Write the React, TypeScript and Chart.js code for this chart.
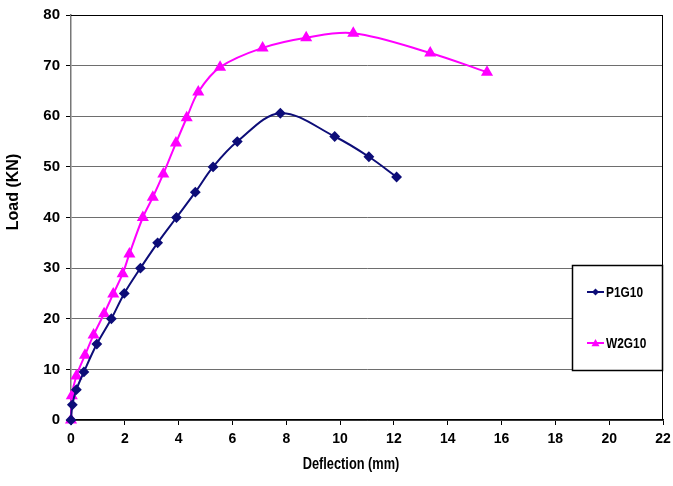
import React, { useEffect, useRef } from "react";
import { Chart, registerables } from "chart.js";

Chart.register(...registerables);

const p1Deflection = [0, 0.05, 0.2, 0.48, 0.96, 1.5, 1.98, 2.58, 3.22, 3.92, 4.62, 5.28, 6.18, 7.78, 9.8, 11.07, 12.1];
const p1Load = [0, 3, 6, 9.5, 15, 20, 25, 30, 35, 40, 45, 50, 55, 60.6, 56, 52, 48];

const w2Deflection = [0, 0.03, 0.2, 0.52, 0.84, 1.23, 1.57, 1.92, 2.17, 2.67, 3.04, 3.43, 3.9, 4.3, 4.73, 5.54, 7.12, 8.74, 10.49, 13.35, 15.46];
const w2Load = [0, 4.8, 8.7, 12.8, 16.8, 21, 24.9, 28.9, 32.8, 40, 44, 48.6, 54.7, 59.7, 64.8, 69.7, 73.5, 75.5, 76.4, 72.5, 68.7];

const seriesNames = ["P1G10", "W2G10"];
const xTitle = "Deflection (mm)";
const yTitle = "Load (KN)";

const NAVY = "#0d0d78";
const MAGENTA = "#ff00ff";
const SANS = "'Liberation Sans', Arial, sans-serif";

const decorPlugin = {
  id: "decor",
  afterDraw(chart: any) {
    const ctx = chart.ctx;
    const area = chart.chartArea;
    ctx.save();
    // plot border (top & right)
    ctx.strokeStyle = "#000";
    ctx.lineWidth = 1;
    ctx.beginPath();
    ctx.moveTo(area.left, area.top + 0.5);
    ctx.lineTo(area.right - 0.5, area.top + 0.5);
    ctx.lineTo(area.right - 0.5, area.bottom);
    ctx.stroke();

    // axis titles
    ctx.fillStyle = "#000";
    ctx.textAlign = "center";
    ctx.textBaseline = "middle";
    ctx.save();
    ctx.translate(351, 465);
    ctx.scale(0.8, 1);
    ctx.font = `bold 16px ${SANS}`;
    ctx.fillText(xTitle, 0, 0);
    ctx.restore();

    ctx.save();
    ctx.translate(14, 192);
    ctx.rotate(-Math.PI / 2);
    ctx.font = `bold 16px ${SANS}`;
    ctx.fillText(yTitle, 0, 0);
    ctx.restore();

    // legend box
    const bx = 572, by = 265, bw = 90, bh = 105;
    ctx.fillStyle = "#fff";
    ctx.fillRect(bx, by, bw, bh);
    ctx.strokeStyle = "#000";
    ctx.lineWidth = 1.5;
    ctx.strokeRect(bx + 0.5, by + 0.5, bw, bh);

    const items = chart.data.datasets;
    const ys = [292, 343];
    items.forEach((ds: any, i: number) => {
      const y = ys[i];
      ctx.strokeStyle = ds.borderColor;
      ctx.lineWidth = 2;
      ctx.beginPath();
      ctx.moveTo(587, y);
      ctx.lineTo(604, y);
      ctx.stroke();
      ctx.fillStyle = ds.pointBackgroundColor;
      ctx.beginPath();
      if (ds.pointStyle === "rectRot") {
        const r = 3.5;
        ctx.moveTo(595.5, y - r);
        ctx.lineTo(595.5 + r, y);
        ctx.lineTo(595.5, y + r);
        ctx.lineTo(595.5 - r, y);
      } else {
        const r = 4;
        ctx.moveTo(595.5, y - r);
        ctx.lineTo(595.5 + r, y + r * 0.8);
        ctx.lineTo(595.5 - r, y + r * 0.8);
      }
      ctx.closePath();
      ctx.fill();
      ctx.fillStyle = "#000";
      ctx.save();
      ctx.translate(606, y + 1);
      ctx.scale(0.85, 1);
      ctx.font = `bold 14px ${SANS}`;
      ctx.textAlign = "left";
      ctx.textBaseline = "middle";
      ctx.fillText(ds.label, 0, 0);
      ctx.restore();
    });
    ctx.restore();
  },
};

export default function App() {
  const ref = useRef<HTMLCanvasElement | null>(null);

  useEffect(() => {
    if (!ref.current) return;
    const chart = new Chart(ref.current, {
      type: "line",
      data: {
        datasets: [
          {
            label: seriesNames[0],
            data: p1Deflection.map((x, i) => ({ x, y: p1Load[i] })),
            borderColor: NAVY,
            backgroundColor: NAVY,
            pointBackgroundColor: NAVY,
            pointBorderColor: NAVY,
            pointStyle: "rectRot",
            pointRadius: 4,
            borderWidth: 2,
            tension: 0.35,
            clip: false,
          } as any,
          {
            label: seriesNames[1],
            data: w2Deflection.map((x, i) => ({ x, y: w2Load[i] })),
            borderColor: MAGENTA,
            backgroundColor: MAGENTA,
            pointBackgroundColor: MAGENTA,
            pointBorderColor: MAGENTA,
            pointStyle: "triangle",
            pointRadius: 5,
            borderWidth: 2,
            tension: 0.35,
            clip: false,
          } as any,
        ],
      },
      options: {
        animation: false,
        responsive: false,
        layout: { padding: { left: 0, right: 10, top: 15, bottom: 0 } },
        plugins: { legend: { display: false }, tooltip: { enabled: false } },
        scales: {
          x: {
            type: "linear",
            min: 0,
            max: 22,
            ticks: {
              stepSize: 2,
              color: "#000",
              font: { family: SANS, size: 14, weight: "bold" },
              padding: 6,
              maxRotation: 0,
            },
            grid: { drawOnChartArea: false, drawTicks: true, tickLength: 5, tickColor: "#000" },
            border: { color: "#000", width: 1.5 },
            afterFit(scale: any) {
              scale.height = 66;
              scale.paddingRight = 0;
              scale.paddingLeft = 0;
            },
          },
          y: {
            type: "linear",
            min: 0,
            max: 80,
            ticks: {
              stepSize: 10,
              color: "#000",
              font: { family: SANS, size: 15, weight: "bold" },
              padding: 6,
            },
            grid: {
              color: (c: any) => (c.tick && c.tick.value === 80 ? "#000" : "#6e6e6e"),
              lineWidth: 1,
              tickLength: 5,
              tickColor: "#000",
            },
            border: { color: "#777", width: 1.5 },
            afterFit(scale: any) {
              scale.width = 71;
              scale.paddingTop = 0;
              scale.paddingBottom = 0;
            },
          },
        },
      },
      plugins: [decorPlugin],
    } as any);
    return () => chart.destroy();
  }, []);

  return (
    <div style={{ position: "absolute", left: 0, top: 0, width: 673, height: 486, background: "#fff" }}>
      <canvas ref={ref} width={673} height={486} />
    </div>
  );
}
